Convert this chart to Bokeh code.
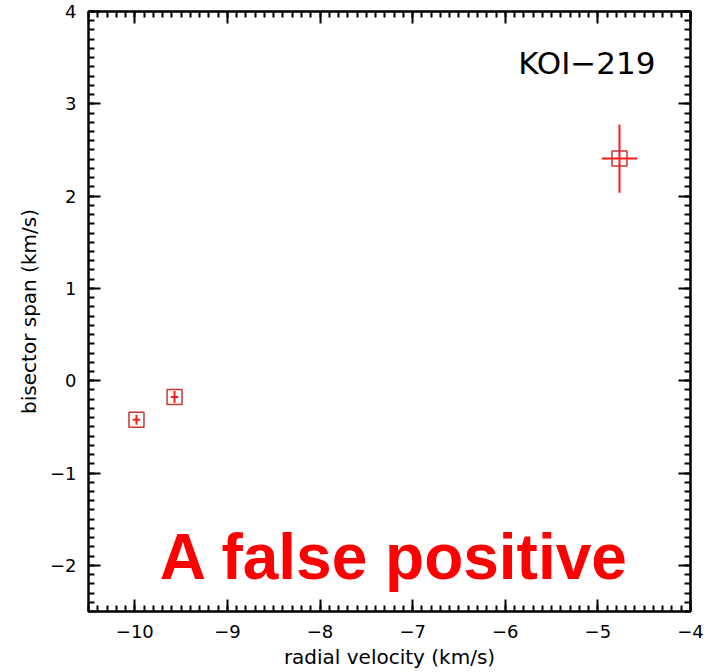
from bokeh.plotting import figure
from bokeh.models import LinearAxis, SingleIntervalTicker, CustomJSTickFormatter, Label, ColumnDataSource
from bokeh.embed import file_html
from bokeh.resources import INLINE

# data (km/s)
rv = [-9.982, -9.571, -4.767]
rv_err = [0.04, 0.04, 0.19]
bs = [-0.423, -0.176, 2.407]
bs_err = [0.055, 0.065, 0.37]

title_text = "KOI\u2212219"
note_text = "A false positive"
x_label = "radial velocity (km/s)"
y_label = "bisector span (km/s)"

src = ColumnDataSource(dict(
    x=rv, y=bs,
    x0=[a - e for a, e in zip(rv, rv_err)], x1=[a + e for a, e in zip(rv, rv_err)],
    y0=[a - e for a, e in zip(bs, bs_err)], y1=[a + e for a, e in zip(bs, bs_err)],
))

p = figure(width=708, height=671, x_range=(-10.5, -4), y_range=(-2.5, 4),
           output_backend="svg", toolbar_location=None,
           x_axis_location=None, y_axis_location=None,
           min_border_left=88, min_border_right=18, min_border_top=11, min_border_bottom=58)
p.grid.visible = False
p.outline_line_color = "black"
p.outline_line_width = 2
p.background_fill_color = "white"
p.border_fill_color = "white"

fmt = CustomJSTickFormatter(code="return tick < 0 ? '\u2212' + Math.abs(tick) : tick.toString();")

def make_axis(labels, label_text=None, tick_standoff=10, label_standoff=8):
    ax = LinearAxis(ticker=SingleIntervalTicker(interval=1, num_minor_ticks=10))
    ax.major_tick_in = 12
    ax.major_tick_out = 0
    ax.minor_tick_in = 6
    ax.minor_tick_out = 0
    ax.major_tick_line_width = 2
    ax.minor_tick_line_width = 2
    ax.axis_line_width = 2
    ax.axis_line_color = "black"
    ax.major_tick_line_color = "black"
    ax.minor_tick_line_color = "black"
    if labels:
        ax.formatter = fmt
        ax.major_label_text_font = "DejaVu Sans"
        ax.major_label_text_font_size = "18px"
        ax.major_label_text_color = "black"
        ax.major_label_standoff = tick_standoff
        ax.axis_label = label_text
        ax.axis_label_text_font = "DejaVu Sans"
        ax.axis_label_text_font_size = "20px"
        ax.axis_label_text_font_style = "normal"
        ax.axis_label_text_color = "black"
        ax.axis_label_standoff = label_standoff
    else:
        ax.major_label_text_font_size = "1px"
        ax.major_label_text_color = None
        ax.major_label_standoff = 0
    return ax

p.add_layout(make_axis(True, x_label, tick_standoff=13, label_standoff=4), "below")
p.add_layout(make_axis(True, y_label, tick_standoff=12, label_standoff=6), "left")
p.add_layout(make_axis(False), "above")
p.add_layout(make_axis(False), "right")

# error bars
p.segment(x0="x0", y0="y", x1="x1", y1="y", source=src, line_color="#ff1a1a", line_width=2)
p.segment(x0="x", y0="y0", x1="x", y1="y1", source=src, line_color="#ff1a1a", line_width=2)
# squares
p.scatter(x="x", y="y", source=src, marker="square", size=15, fill_color=None,
          line_color="#cc3333", line_width=1.5)

p.add_layout(Label(x=-4.378, y=3.44, text=title_text, text_align="right", text_baseline="alphabetic",
                   text_font="DejaVu Sans", text_font_size="31px", text_color="black"))
p.add_layout(Label(x=-7.196, y=-1.908, text=note_text, text_align="center", text_baseline="alphabetic",
                   text_font="Liberation Sans", text_font_size="64px", text_font_style="bold",
                   text_color="#ff0000"))

open("out.html", "w").write(file_html(p, INLINE))
